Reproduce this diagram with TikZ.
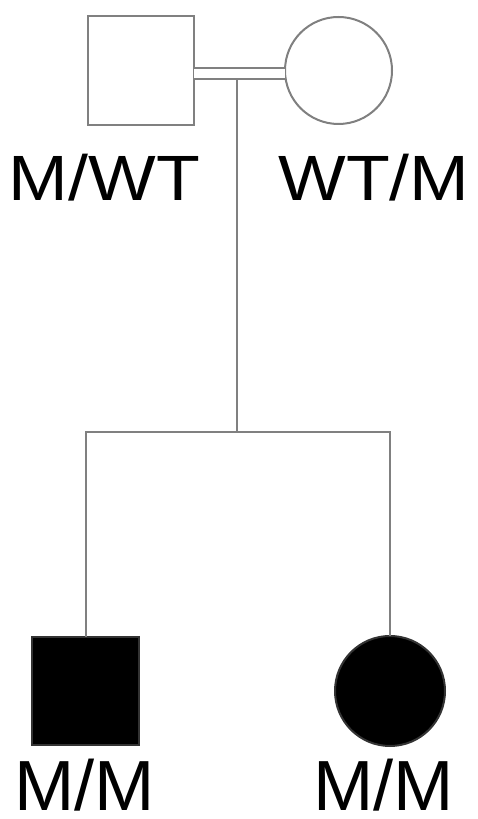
\documentclass[tikz,border=0pt]{standalone}
\usepackage{fontspec}
\setmainfont{Liberation Sans}
\usetikzlibrary{calc}
\begin{document}
\begin{tikzpicture}[x=1pt,y=1pt,
  lbl/.style={anchor=base, inner sep=0pt, text=black, text depth=0pt},
  toplbl/.style={lbl, font=\fontsize{64}{64}\selectfont, xscale=1.12, transform shape},
  botlbl/.style={lbl, font=\fontsize{71}{71}\selectfont, xscale=1.02, transform shape},
  conn/.style={draw=black!50, line width=2pt},
  member/.style={draw=black!50, line width=2pt, inner sep=0pt, outer sep=0pt}]
\useasboundingbox (0,0) rectangle (477,819);
% parents
\node[member, rectangle, minimum width=106, minimum height=109, fill=white] (father) at (141,748.5) {};
\node[member, circle, minimum size=107, fill=white] (mother) at (338.5,748.5) {};
% children
\node[member, rectangle, minimum width=107, minimum height=108, fill=black, draw=black!80] (son) at (85.5,128) {};
\node[member, circle, minimum size=110, fill=black, draw=black!80] (daughter) at (390,128) {};
% marriage line
\draw[conn, double=white, double distance=9pt] ([yshift=-3pt]father.east) -- ([yshift=-3pt]mother.west);
\coordinate (m) at (237,740);
\coordinate (sib) at (237,387);
\draw[conn] (m) -- (sib);
\draw[conn] (son.north) -- (son.north |- sib) -- (daughter.north |- sib) -- (daughter.north);
% labels
\node[toplbl] (lf) at (104.5,618) {M/WT};
\node[toplbl] (lm) at (374,618) {WT/M};
\node[botlbl] (ls) at (84.5,9) {M/M};
\node[botlbl] (ld) at (383.5,9) {M/M};
\end{tikzpicture}
\end{document}
